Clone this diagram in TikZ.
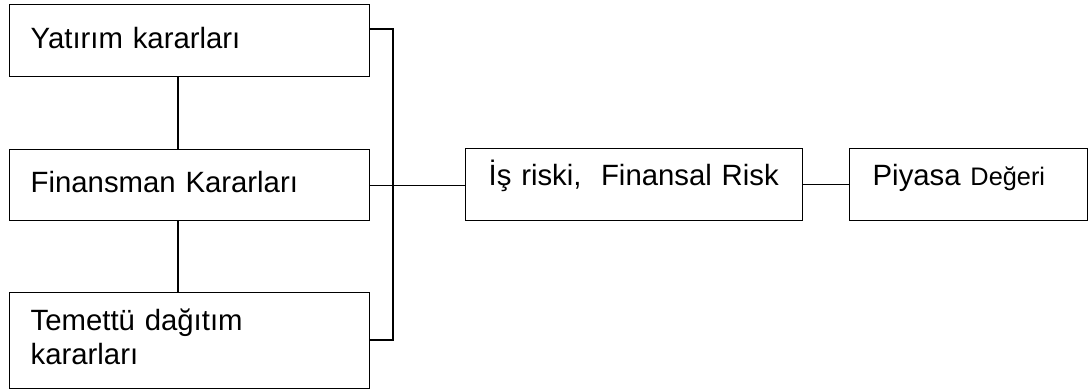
\documentclass[tikz,border=0pt]{standalone}
\usepackage{fontspec}
\setmainfont{Liberation Sans}
\usetikzlibrary{positioning,calc}
\tikzset{
  box/.style={draw, line width=1pt, rectangle, anchor=north west, align=left, inner ysep=0pt,
    font=\fontsize{22pt}{25pt}\selectfont, text height=16.5pt, text depth=5.5pt},
  leftbox/.style={box, inner xsep=15.75pt, text width=238.5pt, minimum width=270pt},
  rightbox/.style={box, inner xsep=17.25pt, minimum height=54pt, text depth=15.4pt},
  link/.style={line width=1pt}
}

\begin{document}
\begin{tikzpicture}[x=0.75pt,y=-0.75pt]
  \useasboundingbox (0,0) rectangle (1089,390);
  % left column of decisions
  \node[leftbox, minimum height=54pt] (yat) at (9,4) {Yatırım kararları};
  \node[leftbox, minimum height=53.25pt] (fin) at (9,149) {Finansman Kararları};
  \node[leftbox, minimum height=72pt, text depth=31.5pt] (tem) at (9,292) {Temettü dağıtım\\kararları};
  % risk and value
  \node[rightbox, text width=218.25pt, minimum width=252.75pt] (risk) at (465,148) {İş riski,\ \ Finansal Risk};
  \node[rightbox, text width=144pt, minimum width=178.5pt] (deger) at (849,148) {Piyasa {\fontsize{19pt}{22pt}\selectfont Değeri}};
  % connectors
  \coordinate (col) at (178,0);
  \coordinate (bustop) at (393,29);
  \coordinate (busbot) at (393,340);
  \draw[link] (yat.south -| col) -- (fin.north -| col);
  \draw[link] (fin.south -| col) -- (tem.north -| col);
  \draw[link] (yat.east |- bustop) -- (bustop) -- (busbot) -- (tem.east |- busbot);
  \draw[link] (fin.east) -- (fin.east -| risk.west);
  \draw[link] (risk) -- (deger);
\end{tikzpicture}
\end{document}
